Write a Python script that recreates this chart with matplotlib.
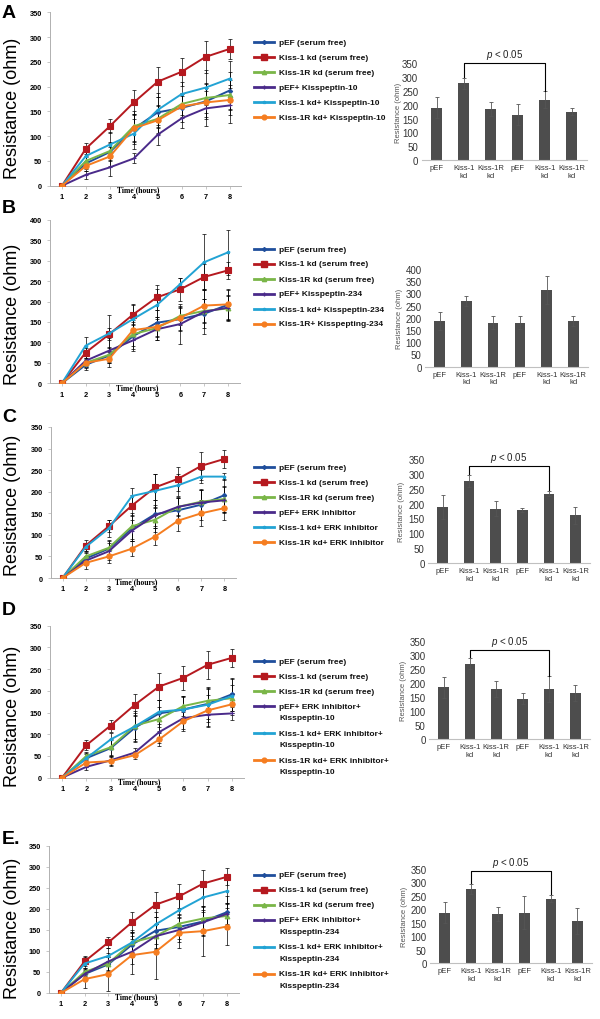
import matplotlib
matplotlib.use("Agg")
import matplotlib.pyplot as plt
from matplotlib.lines import Line2D
import numpy as np

plt.rcParams["font.family"] = ["Liberation Sans", "DejaVu Sans"]
plt.rcParams["mathtext.fontset"] = "custom"
plt.rcParams["mathtext.it"] = "Liberation Sans:italic"
plt.rcParams["mathtext.rm"] = "Liberation Sans"

W, H = 600, 1020

# ── data ────────────────────────────────────────────────
HOURS = [1, 2, 3, 4, 5, 6, 7, 8]

# serum free controls (same in every panel)
PEF_SF = [0, 45, 68, 115, 148, 157, 170, 192]
PEF_SF_ERR = [0, 12, 18, 30, 32, 28, 35, 38]
KISS1_SF = [0, 75, 120, 168, 210, 230, 260, 276]
KISS1_SF_ERR = [0, 12, 14, 25, 30, 28, 32, 20]
KISS1R_SF = [0, 50, 70, 120, 135, 165, 177, 183]
KISS1R_SF_ERR = [0, 10, 18, 30, 28, 22, 30, 30]

# A: Kisspeptin-10
A_PEF = [0, 22, 37, 55, 103, 136, 156, 162]
A_PEF_ERR = [0, 8, 18, 10, 20, 20, 35, 36]
A_KISS1 = [0, 60, 83, 105, 153, 185, 198, 216]
A_KISS1_ERR = [0, 12, 25, 30, 35, 25, 35, 35]
A_KISS1R = [0, 40, 59, 116, 132, 160, 168, 173]
A_KISS1R_ERR = [0, 10, 20, 28, 28, 22, 30, 30]

# B: Kisspeptin-234
B_PEF = [0, 55, 80, 105, 132, 145, 175, 185]
B_PEF_ERR = [0, 15, 30, 25, 25, 48, 55, 30]
B_KISS1 = [0, 92, 122, 157, 191, 243, 296, 320]
B_KISS1_ERR = [0, 22, 45, 35, 40, 15, 68, 55]
B_KISS1R = [0, 50, 60, 130, 138, 160, 190, 193]
B_KISS1R_ERR = [0, 12, 20, 25, 25, 30, 40, 35]

# C: ERK inhibitor
C_PEF = [0, 40, 62, 110, 145, 165, 175, 180]
C_PEF_ERR = [0, 10, 20, 25, 25, 20, 30, 30]
C_KISS1 = [0, 72, 115, 190, 202, 215, 235, 235]
C_KISS1_ERR = [0, 10, 20, 18, 38, 25, 15, 8]
C_KISS1R = [0, 35, 50, 68, 96, 133, 150, 162]
C_KISS1R_ERR = [0, 15, 15, 18, 20, 25, 30, 28]

# D: ERK inhibitor + Kisspeptin-10
D_PEF = [0, 25, 40, 58, 105, 137, 145, 148]
D_PEF_ERR = [0, 8, 10, 10, 25, 25, 28, 15]
D_KISS1 = [0, 45, 88, 118, 152, 157, 168, 188]
D_KISS1_ERR = [0, 10, 15, 35, 28, 30, 40, 40]
D_KISS1R = [0, 35, 38, 52, 88, 130, 155, 169]
D_KISS1R_ERR = [0, 10, 10, 10, 15, 22, 35, 25]

# E: ERK inhibitor + Kisspeptin-234
E_PEF = [0, 45, 75, 98, 135, 150, 168, 188]
E_PEF_ERR = [0, 15, 20, 30, 30, 30, 30, 25]
E_KISS1 = [0, 70, 88, 120, 163, 197, 227, 242]
E_KISS1_ERR = [0, 15, 20, 25, 30, 30, 35, 30]
E_KISS1R = [0, 33, 45, 90, 98, 143, 147, 158]
E_KISS1R_ERR = [0, 20, 40, 45, 65, 35, 60, 45]

SF_LABELS = ["pEF (serum free)", "Kiss-1 kd (serum free)", "Kiss-1R kd (serum free)"]
A_LABELS = ["pEF+ Kisspeptin-10", "Kiss-1 kd+ Kisspeptin-10", "Kiss-1R kd+ Kisspeptin-10"]
B_LABELS = ["pEF+ Kisspeptin-234", "Kiss-1 kd+ Kisspeptin-234", "Kiss-1R+ Kisspepting-234"]
C_LABELS = ["pEF+ ERK inhibitor", "Kiss-1 kd+ ERK inhibitor", "Kiss-1R kd+ ERK inhibitor"]
D_LABELS = ["pEF+ ERK inhibitor+\nKisspeptin-10", "Kiss-1 kd+ ERK inhibitor+\nKisspeptin-10",
            "Kiss-1R kd+ ERK inhibitor+\nKisspeptin-10"]
E_LABELS = ["pEF+ ERK inhibitor+\nKisspeptin-234", "Kiss-1 kd+ ERK inhibitor+\nKisspeptin-234",
            "Kiss-1R kd+ ERK inhibitor+\nKisspeptin-234"]

BAR_CATS = ["pEF", "Kiss-1\nkd", "Kiss-1R\nkd", "pEF", "Kiss-1\nkd", "Kiss-1R\nkd"]
A_BARS = [190, 278, 185, 163, 218, 175]
A_BARS_ERR = [38, 20, 25, 38, 30, 12]
B_BARS = [186, 270, 180, 180, 313, 188]
B_BARS_ERR = [37, 20, 26, 27, 57, 20]
C_BARS = [188, 275, 183, 178, 233, 160]
C_BARS_ERR = [40, 20, 25, 7, 8, 28]
D_BARS = [185, 270, 179, 145, 179, 165]
D_BARS_ERR = [37, 19, 27, 19, 45, 29]
E_BARS = [188, 276, 182, 188, 240, 156]
E_BARS_ERR = [40, 20, 27, 60, 14, 47]

# ── styles / layout (pixels of the 600x1020 canvas) ─────
# colour, marker, marker size for: pEF sf, Kiss-1 sf, Kiss-1R sf, pEF+, Kiss-1+, Kiss-1R+
STYLES = [("#1f4e9c", "D", 2.2), ("#b5191f", "s", 4.4), ("#7ab648", "^", 3.4),
          ("#4a2a8a", "+", 2.5), ("#22a3d4", "*", 2.5), ("#f57d20", "o", 3.8)]

PANELS = [
    dict(letter="A", line=(50, 13.3, 241.5, 186.7), ymax_line=350, ylab_y=108,
         leg_y=43.3, bar=(421.7, 64.3, 586.7, 161), ymax_bar=350, bar_ylab_x=399, bracket=350),
    dict(letter="B", line=(50, 220.7, 239.7, 384.3), ymax_line=400, ylab_y=314,
         leg_y=250, bar=(425, 270, 588, 367.7), ymax_bar=400, bar_ylab_x=399.5, bracket=None),
    dict(letter="C", line=(51, 428, 236, 579), ymax_line=350, ylab_y=505,
         leg_y=468.3, bar=(428, 460, 590, 564), ymax_bar=350, bar_ylab_x=401.7, bracket=327),
    dict(letter="D", line=(50, 626.7, 244, 778.7), ymax_line=350, ylab_y=716,
         leg_y=662.3, bar=(429, 642.3, 590, 740), ymax_bar=350, bar_ylab_x=403.3, bracket=320),
    dict(letter="E.", line=(49, 846.7, 238.7, 994), ymax_line=350, ylab_y=928,
         leg_y=875.7, bar=(430, 870, 592, 964), ymax_bar=350, bar_ylab_x=404.3, bracket=344),
]
PANEL_LETTER_Y = [13, 209, 417, 611, 840]

PANEL_SERIES = [
    [(A_PEF, A_PEF_ERR), (A_KISS1, A_KISS1_ERR), (A_KISS1R, A_KISS1R_ERR)],
    [(B_PEF, B_PEF_ERR), (B_KISS1, B_KISS1_ERR), (B_KISS1R, B_KISS1R_ERR)],
    [(C_PEF, C_PEF_ERR), (C_KISS1, C_KISS1_ERR), (C_KISS1R, C_KISS1R_ERR)],
    [(D_PEF, D_PEF_ERR), (D_KISS1, D_KISS1_ERR), (D_KISS1R, D_KISS1R_ERR)],
    [(E_PEF, E_PEF_ERR), (E_KISS1, E_KISS1_ERR), (E_KISS1R, E_KISS1R_ERR)],
]
PANEL_LABELS = [A_LABELS, B_LABELS, C_LABELS, D_LABELS, E_LABELS]
PANEL_BARS = [(A_BARS, A_BARS_ERR), (B_BARS, B_BARS_ERR), (C_BARS, C_BARS_ERR),
              (D_BARS, D_BARS_ERR), (E_BARS, E_BARS_ERR)]


def px_axes(fig, box):
    left, top, right, bottom = box
    return fig.add_axes([left / W, 1 - bottom / H, (right - left) / W, (bottom - top) / H])


def line_panel(ax, series, ymax):
    for vals, errs in series:
        ax.errorbar(HOURS, vals, yerr=errs, fmt="none", ecolor="black",
                    elinewidth=0.5, capsize=1.5, capthick=0.5, zorder=2)
    for (vals, _), (color, marker, ms) in zip(series, STYLES):
        ax.plot(HOURS, vals, color=color, lw=1.4, marker=marker, ms=ms,
                mec=color, mfc=color, mew=0.8, zorder=3)
    ax.set_xlim(0.5, 8.5)
    ax.set_ylim(0, ymax)
    ax.set_xticks(HOURS)
    ax.set_yticks(range(0, ymax + 1, 50))
    for s in ("top", "right"):
        ax.spines[s].set_visible(False)
    for s in ("left", "bottom"):
        ax.spines[s].set_color("#b0b0b0")
        ax.spines[s].set_linewidth(0.7)
    ax.tick_params(axis="both", labelsize=5.3, length=2, width=0.5, color="#b0b0b0")
    ax.tick_params(axis="x", pad=3.3)
    ax.tick_params(axis="y", pad=4)
    for lab in ax.get_xticklabels() + ax.get_yticklabels():
        lab.set_fontweight("bold")
    ax.annotate("Time (hours)", xy=(0.46, 0), xycoords="axes fraction", xytext=(0, -2.6),
                textcoords="offset points", ha="center", va="center", fontsize=5.5,
                fontweight="bold", family=["Liberation Serif", "DejaVu Serif"])


def bar_panel(ax, vals, errs, ymax, bracket, ylab_x_px, box):
    x = np.arange(len(vals))
    ax.bar(x, vals, width=0.4, color="#4d4d4d", yerr=errs,
           error_kw=dict(ecolor="#555555", elinewidth=0.6, capsize=1.2, capthick=0.6))
    ax.set_xlim(-0.55, 5.55)
    ax.set_ylim(0, ymax)
    ax.set_yticks(range(0, ymax + 1, 50))
    ax.set_xticks(x)
    ax.set_xticklabels(BAR_CATS, fontsize=5.5, color="#333333", linespacing=1.1)
    for s in ("top", "right", "left"):
        ax.spines[s].set_visible(False)
    ax.spines["bottom"].set_color("#c0c0c0")
    ax.spines["bottom"].set_linewidth(0.8)
    ax.tick_params(axis="y", length=0, labelsize=7, labelcolor="#333333", pad=2.5)
    ax.tick_params(axis="x", length=0, pad=3)
    left, _, right, _ = box
    ax.text((ylab_x_px - left) / (right - left), 0.5, "Resistance (ohm)", rotation=90,
            ha="center", va="center", fontsize=5.5, color="#555555", transform=ax.transAxes)
    if bracket is not None:
        i, j = 1, 4
        ax.plot([i, i, j, j], [vals[i] + errs[i] + 3, bracket, bracket, vals[j] + errs[j] + 3],
                color="black", lw=0.8, clip_on=False)
        ax.annotate("$p$ < 0.05", xy=((i + j) / 2, bracket), xycoords="data",
                    xytext=(0, 6.5), textcoords="offset points", ha="center", va="center",
                    fontsize=7, color="#222222", annotation_clip=False)


def draw_legend(fig, y0, labels):
    """handle sits on the first line of a wrapped label"""
    y = y0
    for lab, (color, marker, ms) in zip(labels, STYLES):
        fy = 1 - y / H
        fig.add_artist(Line2D([254 / W, 264 / W, 274 / W], [fy, fy, fy], color=color, lw=2.0,
                              marker=marker, ms=ms * 0.9, mfc=color, mec=color,
                              markevery=[1], transform=fig.transFigure))
        for n, part in enumerate(lab.split("\n")):
            fig.text(279 / W, 1 - (y + 11.5 * n) / H, part, fontsize=6, fontweight="bold",
                     va="center", ha="left", color="#111111")
        y += 15 + 12 * lab.count("\n")


fig = plt.figure(figsize=(W / 100, H / 100), dpi=100)

for k, p in enumerate(PANELS):
    ax = px_axes(fig, p["line"])
    series = [(PEF_SF, PEF_SF_ERR), (KISS1_SF, KISS1_SF_ERR), (KISS1R_SF, KISS1R_SF_ERR)]
    line_panel(ax, series + PANEL_SERIES[k], p["ymax_line"])
    fig.text(12.5 / W, 1 - p["ylab_y"] / H, "Resistance (ohm)", rotation=90, ha="center",
             va="center", fontsize=13)
    fig.text(2 / W, 1 - PANEL_LETTER_Y[k] / H, p["letter"], fontsize=14, fontweight="bold",
             ha="left", va="center")
    draw_legend(fig, p["leg_y"], SF_LABELS + PANEL_LABELS[k])
    bax = px_axes(fig, p["bar"])
    vals, errs = PANEL_BARS[k]
    bar_panel(bax, vals, errs, p["ymax_bar"], p["bracket"], p["bar_ylab_x"], p["bar"])

fig.savefig("out.png", dpi=100)
